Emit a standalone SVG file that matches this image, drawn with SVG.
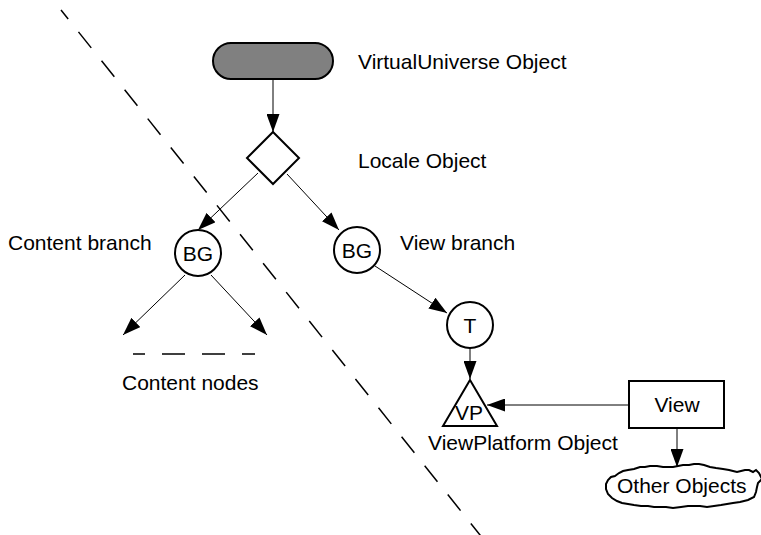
<svg xmlns="http://www.w3.org/2000/svg" width="761" height="535" viewBox="0 0 761 535">
<defs>
<style>
text{font-family:"Liberation Sans",Arial,sans-serif;font-size:21px;fill:#000}
.lbl{text-anchor:start}
.mid{text-anchor:middle}
.node{fill:#fff;stroke:#000;stroke-width:2}
.conn{stroke:#000;stroke-width:1;fill:none;marker-end:url(#ah)}
.dash{stroke:#000;stroke-width:1.5;fill:none}
</style>
<marker id="ah" markerUnits="userSpaceOnUse" markerWidth="18" markerHeight="13" refX="18" refY="6.5" orient="auto">
<path d="M0,0 L18,6.5 L0,13 Z" fill="#000"/>
</marker>
</defs>

<g id="divider">
<line class="dash" x1="61" y1="10" x2="484" y2="540" stroke-dasharray="20.5 16.5" stroke-dashoffset="9"/>
</g>

<g id="connectors">
<line class="conn" x1="273" y1="79" x2="273" y2="132"/>
<line class="conn" x1="258" y1="173" x2="198" y2="230"/>
<line class="conn" x1="287" y1="174" x2="339" y2="230"/>
<line class="conn" x1="185" y1="275" x2="123" y2="335"/>
<line class="conn" x1="211" y1="275" x2="267" y2="335"/>
<line class="conn" x1="375" y1="266" x2="447" y2="313"/>
<line class="conn" x1="470" y1="348" x2="470" y2="379"/>
<line class="conn" x1="629" y1="405" x2="487" y2="405"/>
<line class="conn" x1="677" y1="428" x2="677" y2="467"/>
</g>

<g id="virtualuniverse">
<rect x="213" y="43" width="120" height="36" rx="18" ry="18" fill="#808080" stroke="#000" stroke-width="2"/>
<text class="lbl" x="358" y="69">VirtualUniverse Object</text>
</g>

<g id="locale">
<polygon class="node" points="273,132 299,158 273,184 247,158"/>
<text class="lbl" x="358" y="168">Locale Object</text>
</g>

<g id="bg-content">
<circle class="node" cx="198" cy="253" r="23"/>
<text class="mid" x="198" y="261">BG</text>
<text class="lbl" x="8" y="250">Content branch</text>
</g>

<g id="content-nodes">
<line class="dash" x1="133" y1="354" x2="255" y2="354" stroke-dasharray="23 17" stroke-dashoffset="11"/>
<text class="lbl" x="122" y="390">Content nodes</text>
</g>

<g id="bg-view">
<circle class="node" cx="357" cy="250" r="23"/>
<text class="mid" x="357" y="258">BG</text>
<text class="lbl" x="400" y="250">View branch</text>
</g>

<g id="transform">
<circle class="node" cx="470" cy="325" r="23"/>
<text class="mid" x="470" y="333">T</text>
</g>

<g id="viewplatform">
<polygon class="node" points="470,380 497,426 443,426"/>
<text class="mid" x="469" y="420">VP</text>
<text class="lbl" x="428" y="450">ViewPlatform Object</text>
</g>

<g id="view">
<rect class="node" x="629" y="381" width="95" height="47"/>
<text class="mid" x="677" y="412">View</text>
</g>

<g id="other-objects">
<path class="node" stroke-width="1.5" d="M615,476 L619,473 L623,471 L628,470 L634,469 L640,467 L645,467 L650,466 L657,466 L663,467 L668,467 L673,467 L678,466 L683,465 L689,465 L694,464 L699,464 L704,465 L710,467 L716,468 L723,469 L729,470 L733,471 L737,472 L741,471 L745,470 L749,470 L753,472 L756,470 L759,473 L762,479 L758,483 L757,487 L756,492 L754,497 L748,500 L740,502 L733,503 L727,504 L721,505 L714,506 L707,507 L700,506 L694,506 L688,506 L681,507 L673,508 L666,507 L660,507 L654,507 L648,506 L641,506 L634,505 L628,504 L622,503 L617,501 L612,498 L608,494 L606,489 L606,484 L608,480 L611,477 Z"/>
<text class="lbl" x="617" y="493">Other Objects</text>
</g>
</svg>
